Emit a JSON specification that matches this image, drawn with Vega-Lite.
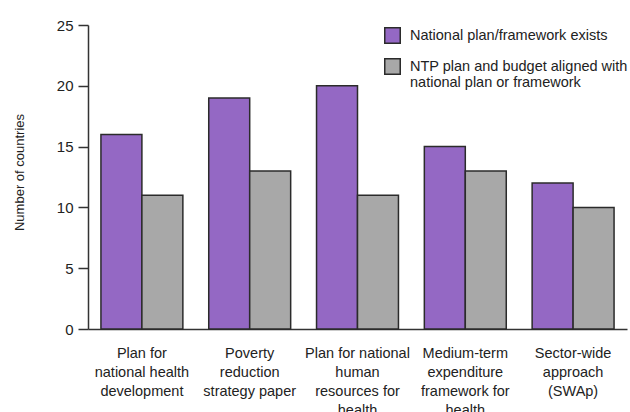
{
  "$schema": "https://vega.github.io/schema/vega-lite/v6.json",
  "autosize": {"type": "none"},
  "padding": {"left": 88, "top": 25, "right": 3, "bottom": 83},
  "width": 539,
  "height": 304,
  "background": "white",
  "config": {
    "font": "Liberation Sans, Arial, sans-serif",
    "view": {"stroke": null}
  },
  "data": {
    "values": [
      {"category": "Plan for\nnational health\ndevelopment", "series": "National plan/framework exists", "countries": 16},
      {"category": "Plan for\nnational health\ndevelopment", "series": "NTP plan and budget aligned with national plan or framework", "countries": 11},
      {"category": "Poverty\nreduction\nstrategy paper", "series": "National plan/framework exists", "countries": 19},
      {"category": "Poverty\nreduction\nstrategy paper", "series": "NTP plan and budget aligned with national plan or framework", "countries": 13},
      {"category": "Plan for national\nhuman\nresources for\nhealth", "series": "National plan/framework exists", "countries": 20},
      {"category": "Plan for national\nhuman\nresources for\nhealth", "series": "NTP plan and budget aligned with national plan or framework", "countries": 11},
      {"category": "Medium-term\nexpenditure\nframework for\nhealth", "series": "National plan/framework exists", "countries": 15},
      {"category": "Medium-term\nexpenditure\nframework for\nhealth", "series": "NTP plan and budget aligned with national plan or framework", "countries": 13},
      {"category": "Sector-wide\napproach\n(SWAp)", "series": "National plan/framework exists", "countries": 12},
      {"category": "Sector-wide\napproach\n(SWAp)", "series": "NTP plan and budget aligned with national plan or framework", "countries": 10}
    ]
  },
  "mark": {"type": "bar", "stroke": "#2b2b2b", "strokeWidth": 1.5},
  "encoding": {
    "x": {
      "field": "category",
      "type": "nominal",
      "sort": null,
      "scale": {"paddingInner": 0.24, "paddingOuter": 0.12},
      "axis": {
        "title": null,
        "labelAngle": 0,
        "labelExpr": "split(datum.label, '\\n')",
        "labelFontSize": 14.5,
        "labelColor": "#222",
        "labelLineHeight": 19,
        "labelBaseline": "top",
        "labelPadding": 17,
        "ticks": false,
        "domainColor": "#333",
        "domainWidth": 1.5,
        "labelLimit": 200
      }
    },
    "xOffset": {"field": "series", "type": "nominal", "sort": null, "scale": {"paddingInner": 0}},
    "y": {
      "field": "countries",
      "type": "quantitative",
      "scale": {"domain": [0, 25]},
      "axis": {
        "title": "Number of countries",
        "titleFontSize": 13,
        "titleFontWeight": "normal",
        "titleColor": "#222",
        "titlePadding": 30,
        "titleY": 147,
        "values": [0, 5, 10, 15, 20, 25],
        "grid": false,
        "tickSize": 10,
        "tickColor": "#333",
        "tickWidth": 1.5,
        "domainColor": "#333",
        "domainWidth": 1.5,
        "labelFontSize": 15,
        "labelColor": "#222",
        "labelPadding": 5
      }
    },
    "color": {
      "field": "series",
      "type": "nominal",
      "sort": null,
      "scale": {"range": ["#9468C4", "#A8A8A8"]},
      "legend": {
        "title": null,
        "orient": "none",
        "legendX": 296,
        "legendY": 2,
        "symbolType": "square",
        "symbolSize": 240,
        "symbolStrokeColor": "#2b2b2b",
        "symbolStrokeWidth": 1.5,
        "symbolOpacity": 1,
        "labelFontSize": 14.5,
        "labelColor": "#222",
        "labelLimit": 300,
        "labelOffset": 9,
        "labelLineHeight": 17,
        "rowPadding": 8,
        "labelExpr": "datum.label == 'NTP plan and budget aligned with national plan or framework' ? ['NTP plan and budget aligned with', 'national plan or framework'] : datum.label"
      }
    }
  }
}
